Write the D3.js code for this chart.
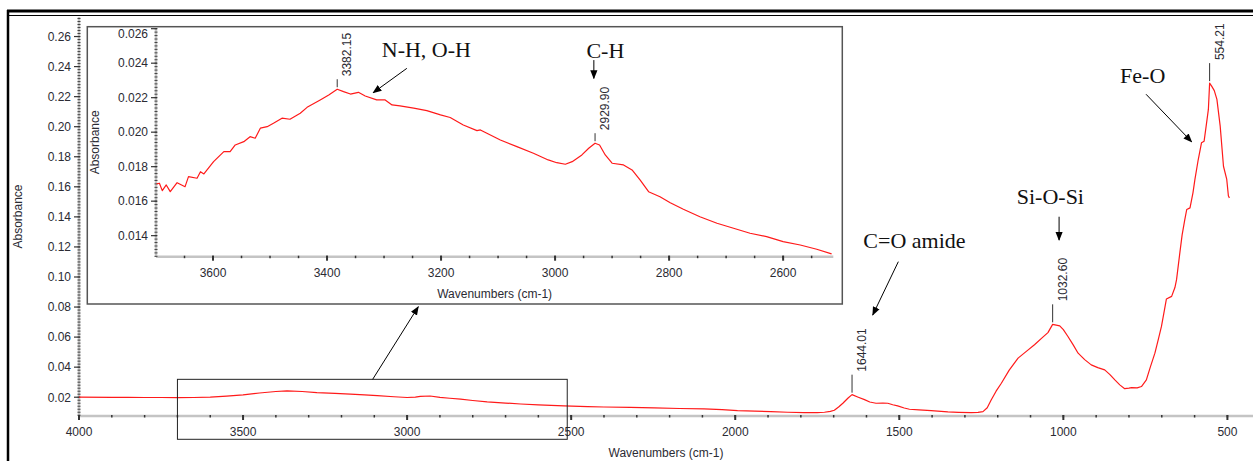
<!DOCTYPE html>
<html>
<head>
<meta charset="utf-8">
<script src="https://cdn.jsdelivr.net/npm/d3@7"></script>
<style>
  body { margin: 0; background: #fff; }
  svg { display: block; font-family: "Liberation Sans", Arial, sans-serif; }
  .tick-label { font-size: 12px; fill: #2b2b33; }
  .note { font-family: "Liberation Serif", "Times New Roman", serif; font-size: 22px; fill: #111; }
</style>
</head>
<body>
<svg id="chart" width="1253" height="461"></svg>
<script>
const width = 1253
const height = 461

// full spectrum
const mainWavenumbers = [4000, 3900, 3850, 3800, 3750, 3700, 3650, 3600, 3550, 3500, 3450, 3400, 3366, 3320, 3275, 3220,
  3173, 3130, 3091, 3040, 3000, 2975, 2960, 2930, 2900, 2870, 2837, 2800, 2756, 2700, 2654, 2600, 2522, 2450, 2400,
  2320, 2247, 2170, 2095, 2040, 1993, 1940, 1891, 1840, 1790, 1750, 1728, 1710, 1698, 1685, 1672, 1656, 1644.01,
  1625, 1606, 1590, 1571, 1550, 1535, 1520, 1505, 1485, 1469, 1440, 1403, 1352, 1320, 1281, 1260, 1245, 1232, 1220,
  1205, 1189, 1165, 1138, 1110, 1088, 1065, 1047, 1032.6, 1011, 1000, 986, 970, 955, 935, 915, 895, 874, 858, 843,
  828, 813, 800, 792, 775, 762, 747, 735, 721, 710, 701, 692, 686, 670, 660, 655, 645, 638, 630, 624, 614, 605, 599,
  589, 579, 571, 565, 558, 554.21, 548, 540, 532, 522, 512, 502, 497, 494]
const mainAbsorbance = [0.0200, 0.0199, 0.0199, 0.0198, 0.0198, 0.0197, 0.0198, 0.0200, 0.0207, 0.0216, 0.0228, 0.0238,
  0.0242, 0.0238, 0.0230, 0.0225, 0.0220, 0.0215, 0.0211, 0.0203, 0.0198, 0.0200, 0.0205, 0.0208, 0.0199, 0.0193,
  0.0187, 0.0178, 0.0169, 0.0161, 0.0155, 0.0149, 0.0142, 0.0138, 0.0135, 0.0132, 0.0129, 0.0125, 0.0122, 0.0117,
  0.0111, 0.0108, 0.0104, 0.0100, 0.0097, 0.0098, 0.0100, 0.0106, 0.0113, 0.0135, 0.0160, 0.0195, 0.0217, 0.0200,
  0.0184, 0.0168, 0.0160, 0.0161, 0.0160, 0.0150, 0.0142, 0.0128, 0.0120, 0.0116, 0.0111, 0.0102, 0.0099, 0.0097,
  0.0099, 0.0104, 0.0130, 0.0182, 0.0240, 0.0293, 0.0380, 0.0460, 0.0510, 0.0549, 0.0595, 0.0630, 0.0685, 0.0675,
  0.0650, 0.0604, 0.0548, 0.0493, 0.0450, 0.0415, 0.0397, 0.0382, 0.0350, 0.0315, 0.0282, 0.0257, 0.0260, 0.0264,
  0.0262, 0.0271, 0.0315, 0.0400, 0.0493, 0.0590, 0.0671, 0.0780, 0.0853, 0.0871, 0.0930, 0.0982, 0.1160, 0.1280,
  0.1380, 0.1449, 0.1460, 0.1560, 0.1649, 0.1780, 0.1893, 0.1904, 0.2000, 0.2115, 0.2290, 0.2270, 0.2240, 0.2182,
  0.2004, 0.1737, 0.1649, 0.1540, 0.1525]

// zoomed 3700-2512 region (inset)
const insetWavenumbers = [3699, 3694, 3689, 3682, 3675, 3663, 3649, 3643, 3628, 3622, 3616, 3599, 3581, 3570, 3561,
  3546, 3535, 3526, 3517, 3505, 3494, 3479, 3465, 3447, 3435, 3412, 3397, 3382.15, 3371, 3359, 3345, 3333, 3313,
  3298, 3286, 3272, 3248, 3225, 3201, 3184, 3161, 3137, 3131, 3096, 3067, 3038, 3012, 2997, 2982, 2970, 2953, 2941,
  2929.9, 2922, 2912, 2900, 2880, 2865, 2851, 2836, 2816, 2798, 2775, 2746, 2716, 2687, 2658, 2629, 2600, 2570,
  2541, 2515]
const insetAbsorbance = [0.01700, 0.01704, 0.01661, 0.01694, 0.01655, 0.01707, 0.01684, 0.01742, 0.01733, 0.01771,
  0.01758, 0.01829, 0.01887, 0.01887, 0.01926, 0.01945, 0.01974, 0.01965, 0.02023, 0.02032, 0.02052, 0.02081,
  0.02075, 0.02110, 0.02144, 0.02187, 0.02216, 0.02249, 0.02235, 0.02221, 0.02231, 0.02210, 0.02187, 0.02187,
  0.02158, 0.02152, 0.02139, 0.02125, 0.02100, 0.02085, 0.02042, 0.02009, 0.02013, 0.01955, 0.01916, 0.01878,
  0.01839, 0.01823, 0.01814, 0.01829, 0.01868, 0.01907, 0.01936, 0.01926, 0.01868, 0.01820, 0.01810, 0.01781,
  0.01723, 0.01655, 0.01626, 0.01591, 0.01553, 0.01510, 0.01472, 0.01443, 0.01414, 0.01394, 0.01365, 0.01346,
  0.01321, 0.01294]

const mainXTicks = [4000, 3500, 3000, 2500, 2000, 1500, 1000, 500]
const mainYTicks = [0.02, 0.04, 0.06, 0.08, 0.10, 0.12, 0.14, 0.16, 0.18, 0.20, 0.22, 0.24, 0.26]
const insetXTicks = [3600, 3400, 3200, 3000, 2800, 2600]
const insetYTicks = [0.014, 0.016, 0.018, 0.020, 0.022, 0.024, 0.026]

const mainPeaks = [1644.01, 1032.6, 554.21]
const mainPeakLabels = ['1644.01', '1032.60', '554.21']
const insetPeaks = [3382.15, 2929.9]
const insetPeakLabels = ['3382.15', '2929.90']

const zoomRange = [3700, 2512]

const svg = d3.select('#chart')

// scales
const xMain = d3.scaleLinear().domain([4000, 422]).range([79, 1253])
const yMain = d3.scaleLinear().domain([0.0075, 0.273]).range([416, 17])
const xIn = d3.scaleLinear().domain(zoomRange).range([156, 833.3])
const yIn = d3.scaleLinear().domain([0.01278, 0.02604]).range([256.7, 28])

// outer frame (double top rule, thick left rule)
svg.append('line').attr('x1', 7).attr('x2', width).attr('y1', 11).attr('y2', 11)
  .attr('stroke', '#000').attr('stroke-width', 3)
svg.append('line').attr('x1', 9).attr('x2', width).attr('y1', 15.5).attr('y2', 15.5)
  .attr('stroke', '#000').attr('stroke-width', 1)
svg.append('line').attr('x1', 8).attr('x2', 8).attr('y1', 10).attr('y2', height)
  .attr('stroke', '#000').attr('stroke-width', 2.5)

const defs = svg.append('defs')
defs.append('marker').attr('id', 'arrow')
  .attr('viewBox', '0 0 10 10').attr('refX', 9).attr('refY', 5)
  .attr('markerWidth', 9).attr('markerHeight', 9).attr('markerUnits', 'userSpaceOnUse')
  .attr('orient', 'auto')
  .append('path').attr('d', 'M0,1 L10,5 L0,9 Z').attr('fill', '#000')

function clip(id, x, y) {
  defs.append('clipPath').attr('id', id).append('rect')
    .attr('x', x.range()[0]).attr('y', y.range()[1])
    .attr('width', x.range()[1] - x.range()[0]).attr('height', y.range()[0] - y.range()[1])
}
clip('clip-main', xMain, yMain)
clip('clip-inset', xIn, yIn)

function drawAxes(g, x, y, xTicks, yTicks, xMinorStep, yMinorStep, yFormat, xLabelY, yLabelX) {
  const x0 = x.range()[0], x1 = x.range()[1]
  const y0 = y.range()[0], y1 = y.range()[1]

  // axis lines
  g.append('line').attr('x1', x0).attr('x2', x1).attr('y1', y0).attr('y2', y0)
    .attr('stroke', '#c4c4c4').attr('stroke-width', 2.5)
  g.append('line').attr('x1', x0).attr('x2', x0).attr('y1', y0).attr('y2', y1)
    .attr('stroke', '#c4c4c4').attr('stroke-width', 2.5)

  // minor ticks
  const xd = x.domain()
  const xMinor = d3.range(Math.ceil(Math.min(...xd) / xMinorStep) * xMinorStep, Math.max(...xd), xMinorStep)
  g.selectAll(null).data(xMinor).enter().append('line')
    .attr('x1', d => x(d)).attr('x2', d => x(d)).attr('y1', y0 - 1).attr('y2', y0 + 1.5)
    .attr('stroke', '#333').attr('stroke-width', 1.5)
  const yd = y.domain()
  const nMin = Math.ceil(yd[0] / yMinorStep), nMax = Math.floor(yd[1] / yMinorStep)
  const yMinor = d3.range(nMin, nMax + 1).map(i => i * yMinorStep)
  g.selectAll(null).data(yMinor).enter().append('line')
    .attr('x1', x0 - 1.5).attr('x2', x0 + 1.5).attr('y1', d => y(d)).attr('y2', d => y(d))
    .attr('stroke', '#444').attr('stroke-width', 1)

  // major ticks + labels
  g.selectAll(null).data(xTicks).enter().append('line')
    .attr('x1', d => x(d)).attr('x2', d => x(d)).attr('y1', y0 - 1).attr('y2', y0 + 4)
    .attr('stroke', '#333').attr('stroke-width', 2)
  g.selectAll(null).data(xTicks).enter().append('text')
    .attr('class', 'tick-label').attr('text-anchor', 'middle')
    .attr('x', d => x(d)).attr('y', xLabelY).text(d => d)
  g.selectAll(null).data(yTicks).enter().append('line')
    .attr('x1', x0 - 5).attr('x2', x0 + 1).attr('y1', d => y(d)).attr('y2', d => y(d))
    .attr('stroke', '#333').attr('stroke-width', 1.2)
  g.selectAll(null).data(yTicks).enter().append('text')
    .attr('class', 'tick-label').attr('text-anchor', 'end')
    .attr('x', x0 - 8).attr('y', d => Math.max(y(d), y1 + 6) + 4.3).text(d => d3.format(yFormat)(d))

  // titles
  g.append('text').attr('class', 'tick-label').attr('text-anchor', 'middle')
    .attr('x', (x0 + x1) / 2).attr('y', xLabelY + 21).text('Wavenumbers (cm-1)')
  g.append('text').attr('class', 'tick-label').attr('text-anchor', 'middle')
    .attr('transform', `translate(${yLabelX},${(y0 + y1) / 2}) rotate(-90)`).text('Absorbance')
}

function drawCurve(g, x, y, xs, ys, clipId) {
  const line = d3.line().x(i => x(xs[i])).y(i => y(ys[i]))
  g.append('path').datum(d3.range(xs.length))
    .attr('clip-path', `url(#${clipId})`)
    .attr('d', line).attr('fill', 'none')
    .attr('stroke', '#ff1a1a').attr('stroke-width', 1.2).attr('stroke-linejoin', 'round')
}

function drawPeaks(g, x, y, xs, ys, peaks, labels, lead) {
  peaks.forEach((p, k) => {
    const i = xs.indexOf(p)
    const px = x(p), py = y(ys[i]) - 2
    g.append('line').attr('x1', px).attr('x2', px).attr('y1', py).attr('y2', py - lead)
      .attr('stroke', '#333').attr('stroke-width', 1)
    g.append('text').attr('class', 'tick-label').attr('text-anchor', 'start')
      .attr('transform', `translate(${px + 14},${py - lead - 3}) rotate(-90)`).text(labels[k])
  })
}

function arrow(g, x1, y1, x2, y2) {
  g.append('line').attr('x1', x1).attr('y1', y1).attr('x2', x2).attr('y2', y2)
    .attr('stroke', '#000').attr('stroke-width', 1).attr('marker-end', 'url(#arrow)')
}

// main chart
const gMain = svg.append('g')
drawAxes(gMain, xMain, yMain, mainXTicks, mainYTicks, 100, 0.002, '.2f', 436, 22)
drawCurve(gMain, xMain, yMain, mainWavenumbers, mainAbsorbance, 'clip-main')
drawPeaks(gMain, xMain, yMain, mainWavenumbers, mainAbsorbance, mainPeaks, mainPeakLabels, 18)

// zoom window on the main spectrum
gMain.append('rect')
  .attr('x', xMain(zoomRange[0])).attr('y', yMain(0.0319))
  .attr('width', xMain(zoomRange[1]) - xMain(zoomRange[0])).attr('height', yMain(-0.008) - yMain(0.0319))
  .attr('fill', 'none').attr('stroke', '#222').attr('stroke-width', 1)

// inset
const gIn = svg.append('g')
gIn.append('rect').attr('x', 87.3).attr('y', 26.7).attr('width', 755).attr('height', 277.3)
  .attr('fill', '#fff').attr('stroke', '#555').attr('stroke-width', 1.5)
drawAxes(gIn, xIn, yIn, insetXTicks, insetYTicks, 50, 0.0002, '.3f', 276.5, 99)
drawCurve(gIn, xIn, yIn, insetWavenumbers, insetAbsorbance, 'clip-inset')
drawPeaks(gIn, xIn, yIn, insetWavenumbers, insetAbsorbance, insetPeaks, insetPeakLabels, 8)

// connector from zoom window to inset
arrow(svg, xMain(3105), yMain(0.0319), xMain(2966), yMain(0.0802))

// band assignments
const gNotes = svg.append('g')
function note(x, y, label, tx, ty, tail, tip) {
  gNotes.append('text').attr('class', 'note').attr('x', x(tx)).attr('y', y(ty)).text(label)
  arrow(gNotes, x(tail[0]), y(tail[1]), x(tip[0]), y(tip[1]))
}
note(xIn, yIn, 'N-H, O-H', 3304, 0.02438, [3260, 0.02370], [3319, 0.02229])
note(xIn, yIn, 'C-H', 2945, 0.02430, [2932, 0.02418], [2932, 0.02312])
note(xMain, yMain, 'C=O amide', 1609.5, 0.1191, [1502.9, 0.1102], [1580.9, 0.0747])
note(xMain, yMain, 'Si-O-Si', 1142, 0.1486, [1013, 0.1401], [1013, 0.1246])
note(xMain, yMain, 'Fe-O', 827, 0.2293, [748, 0.2216], [609, 0.190])
</script>
</body>
</html>
